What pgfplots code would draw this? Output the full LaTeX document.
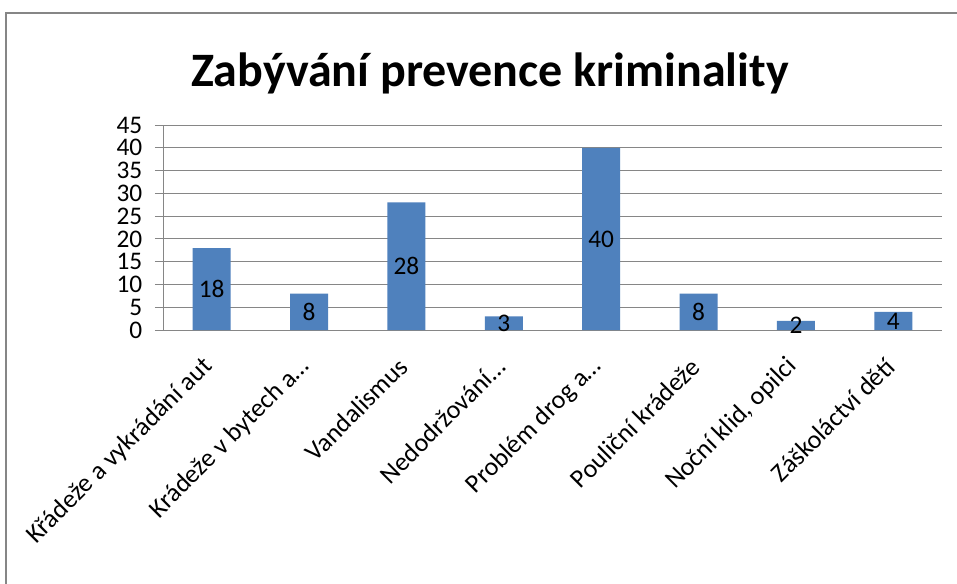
\documentclass[border=0pt]{standalone}
\usepackage{pgfplots}
\usepackage{pgfplotstable}
\pgfplotsset{compat=1.18}
\usepackage{fontspec}
\setmainfont{Carlito}
\definecolor{barblue}{HTML}{4F81BD}
\definecolor{gridgray}{HTML}{868686}
\pgfplotstableread{
x v
0 18
1 8
2 28
3 3
4 40
5 8
6 2
7 4
}\datatable
\begin{document}
\begin{tikzpicture}[x=0.75pt,y=0.75pt]
\useasboundingbox (0,0) rectangle (957,583);
\clip (0,0) rectangle (957,583);
\fill[white] (0,0) rectangle (957,583);
\draw[gridgray, line width=1.5pt] (6,570) rectangle (1000,-50);
\node[font=\fontsize{36}{42}\selectfont\bfseries] at (490,510) {Zabývání prevence kriminality};
\begin{axis}[at={(122.25pt,189.75pt)}, anchor=south west, scale only axis,
  width=584.25pt, height=153.75pt,
  xmin=-0.5, xmax=7.5, ymin=0, ymax=45,
  ytick={0,5,...,45},
  xtick={0,...,7},
  xticklabels={Křádeže a vykrádání aut, Krádeže v bytech a…, Vandalismus, Nedodržování…, Problém drog a…, Pouliční krádeže, {Noční klid, opilci}, Záškoláctví dětí},
  axis x line*=bottom, axis y line*=left,
  axis line style={gridgray, -},
  ymajorgrids, grid style={gridgray, line width=0.6pt},
  tick align=outside,
  x tick style={draw=none},
  y tick style={gridgray, line width=0.6pt}, major tick length=6pt,
  extra x ticks={-0.5,0.5,...,7.5}, extra x tick labels={},
  extra x tick style={grid=none, tick style={draw=gridgray, line width=0.6pt}, major tick length=5pt},
  /pgf/number format/assume math mode=true,
  yticklabel style={font=\fontsize{19}{22}\selectfont, xshift=-6pt},
  xticklabel style={font=\fontsize{19.5}{23}\selectfont, rotate=45, anchor=east},
  xticklabel shift=16pt,
  clip=false,
]
\addplot[ybar, bar width=28.5pt, fill=barblue, draw=none] table[x=x, y=v] {\datatable};
\addplot[draw=none, mark=none, nodes near coords, point meta=\thisrow{v},
  every node near coord/.style={anchor=center, font=\fontsize{19}{22}\selectfont, text=black}]
  table[x=x, y expr=\thisrow{v}/2] {\datatable};
\end{axis}
\end{tikzpicture}
\end{document}
